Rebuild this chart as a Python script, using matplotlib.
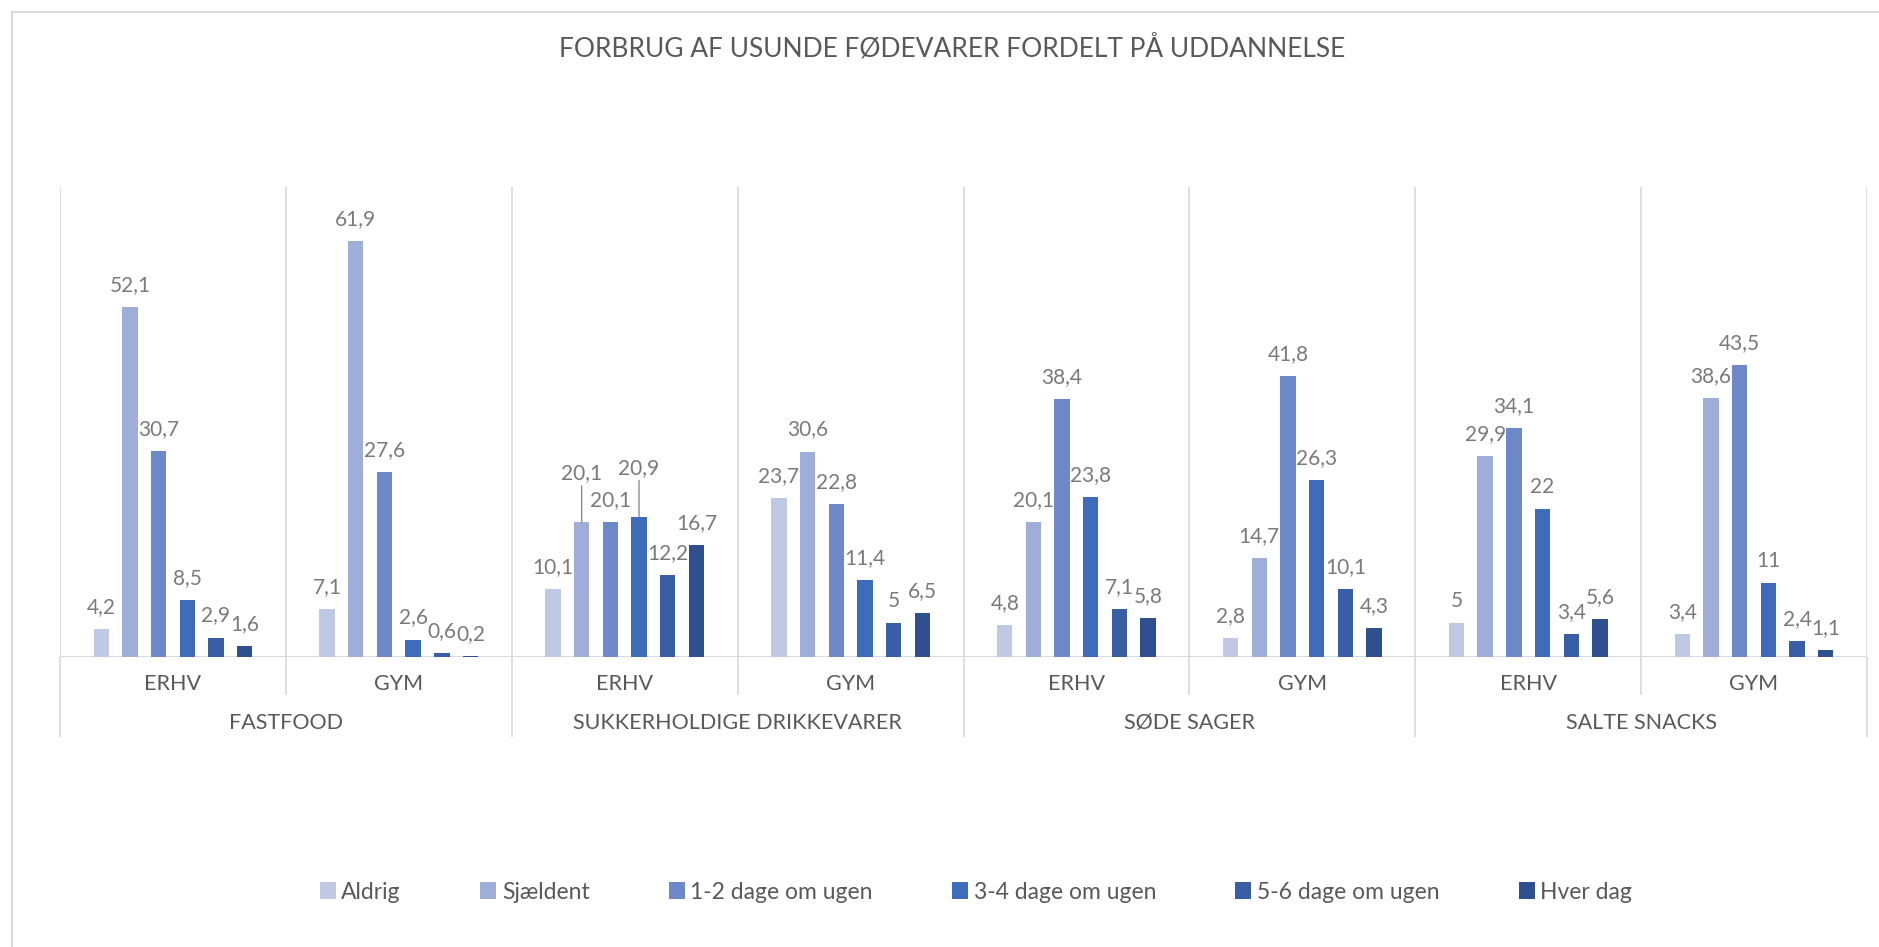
import matplotlib
matplotlib.use('Agg')
import matplotlib.pyplot as plt
from matplotlib.patches import Patch
from matplotlib.lines import Line2D
import numpy as np

plt.rcParams['font.family'] = ['Lato', 'DejaVu Sans']

# ---------------- data ----------------
title = "FORBRUG AF USUNDE FØDEVARER FORDELT PÅ UDDANNELSE"
food_groups = ["FASTFOOD", "SUKKERHOLDIGE DRIKKEVARER", "SØDE SAGER", "SALTE SNACKS"]
education = ["ERHV", "GYM"]
series_names = ["Aldrig", "Sjældent", "1-2 dage om ugen", "3-4 dage om ugen",
                "5-6 dage om ugen", "Hver dag"]

# order: FASTFOOD ERHV, GYM, SUKKER ERHV, GYM, SØDE ERHV, GYM, SALTE ERHV, GYM
aldrig    = [4.2, 7.1, 10.1, 23.7, 4.8, 2.8, 5.0, 3.4]
sjaeldent = [52.1, 61.9, 20.1, 30.6, 20.1, 14.7, 29.9, 38.6]
dage_1_2  = [30.7, 27.6, 20.1, 22.8, 38.4, 41.8, 34.1, 43.5]
dage_3_4  = [8.5, 2.6, 20.9, 11.4, 23.8, 26.3, 22.0, 11.0]
dage_5_6  = [2.9, 0.6, 12.2, 5.0, 7.1, 10.1, 3.4, 2.4]
hver_dag  = [1.6, 0.2, 16.7, 6.5, 5.8, 4.3, 5.6, 1.1]

series_values = [aldrig, sjaeldent, dage_1_2, dage_3_4, dage_5_6, hver_dag]
colors = ["#c0c9e4", "#9eaed8", "#6c89ca", "#3e6cbb", "#385ea6", "#2f508f"]

# labels moved up with leader lines (category index, series index)
raised_labels = {(2, 1), (2, 3)}

W, H = 1879, 947
fig = plt.figure(figsize=(W / 100, H / 100), dpi=100)
left_px, right_px, top_px, base_px = 60, 1867, 187, 657
ax = fig.add_axes([left_px / W, 1 - base_px / H, (right_px - left_px) / W,
                   (base_px - top_px) / H])

n = len(aldrig)
x = np.arange(n)
step = 0.127
width = 0.068
label_color = "#7a7a7a"
text_color = "#595959"
grid_color = "#d9d9d9"


def fmt(v):
    return f"{v:g}".replace(".", ",")


for k, (name, vals, col) in enumerate(zip(series_names, series_values, colors)):
    xs = x + (k - 2.5) * step
    ax.bar(xs, vals, width, color=col, label=name, zorder=3)
    for j, (xx, v) in enumerate(zip(xs, vals)):
        raised = (j, k) in raised_labels
        off = 49 if raised else 22
        ax.annotate(fmt(v), xy=(xx, v), xytext=(0, off), textcoords="offset pixels",
                    ha="center", va="center", fontsize=15, color=label_color,
                    zorder=4,
                    arrowprops=(dict(arrowstyle="-", color="#8c8c8c", lw=1,
                                     shrinkA=0, shrinkB=0) if raised else None))

ax.set_xlim(-0.5, n - 0.5)
ax.set_ylim(0, 70)
ax.axis("off")

xt = ax.get_xaxis_transform()
# vertical gridlines within plot
ax.vlines(np.arange(-0.5, n, 1.0), 0, 1, transform=xt, colors=grid_color, lw=1.2, zorder=1)
# baseline
ax.axhline(0, color=grid_color, lw=1.4, zorder=2)
# category tick separators below axis
short_y = -(695 - base_px) / (base_px - top_px)
long_y = -(737 - base_px) / (base_px - top_px)
ax.vlines(np.arange(0.5, n, 2.0), short_y, 0, transform=xt, colors=grid_color,
          lw=1.2, clip_on=False)
ax.vlines(np.arange(-0.5, n + 1, 2.0), long_y, 0, transform=xt, colors=grid_color,
          lw=1.2, clip_on=False)

lvl1_y = -(684 - base_px) / (base_px - top_px)
lvl2_y = -(723 - base_px) / (base_px - top_px)
for i in range(n):
    ax.text(i, lvl1_y, education[i % 2], transform=xt, ha="center", va="center",
            fontsize=15.5, color=text_color)
for g, name in enumerate(food_groups):
    ax.text(2 * g + 0.5, lvl2_y, name, transform=xt, ha="center", va="center",
            fontsize=15.5, color=text_color)

# title
fig.text(952 / W, 1 - 48 / H, title, ha="center", va="center", fontsize=19,
         color=text_color)

# chart frame (left and top visible)
fig.add_artist(Line2D([12 / W, 12 / W], [0, 1 - 12 / H], color=grid_color, lw=1.5))
fig.add_artist(Line2D([12 / W, 1], [1 - 12 / H, 1 - 12 / H], color=grid_color, lw=1.5))

handles = [Patch(facecolor=c, edgecolor="none") for c in colors]
fig.legend(handles, series_names, loc="center", bbox_to_anchor=(976 / W, 1 - 892 / H),
           ncol=6, frameon=False, fontsize=16.5, handlelength=0.7, handleheight=0.7,
           handletextpad=0.25, columnspacing=3.45, labelcolor=text_color)

fig.savefig("out.png", dpi=100)
